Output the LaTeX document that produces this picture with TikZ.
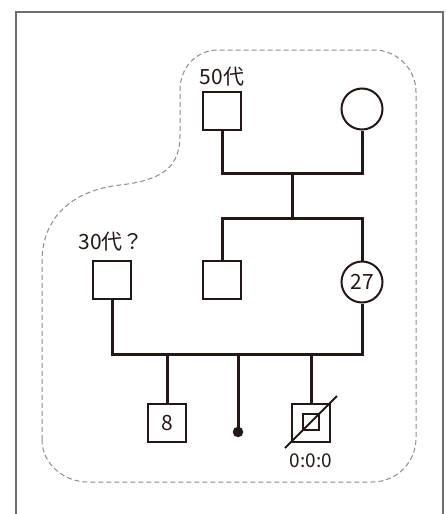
\documentclass[tikz,border=0pt]{standalone}
\usepackage{fontspec}
\setmainfont{Noto Sans CJK JP}
\definecolor{ink}{HTML}{231815}
\definecolor{rim}{HTML}{6E6E6E}
\definecolor{halo}{HTML}{8C8C8C}
\begin{document}
\begin{tikzpicture}[x=1pt,y=-1pt,
		male/.style={draw=ink,rectangle,minimum size=38pt,line width=2pt,inner sep=0pt,text=ink,font=\fontsize{21}{25}\selectfont},
		female/.style={draw=ink,circle,minimum size=41pt,line width=2pt,inner sep=0pt,text=ink,font=\fontsize{21}{25}\selectfont},
		tag/.style={text=ink,inner sep=0pt,font=\fontsize{21}{25}\selectfont},
		bond/.style={draw=ink,line width=3pt}]
			\useasboundingbox (0,0) rectangle (445,514);
			\draw[rim,line width=1.5pt] (16,514) -- (16,12) -- (443,12) -- (443,514);
			\draw[halo,dashed,line width=1pt,dash pattern=on 5pt off 3pt] (42,440) -- (42,262) .. controls (42,215) and (75,190) .. (120,185) .. controls (165,180) and (180,165) .. (180,135) -- (180,90) .. controls (180,68) and (196,50) .. (218,50) -- (374,50) .. controls (397,50) and (416,69) .. (416,92) -- (416,438) .. controls (416,462) and (397,482) .. (372,482) -- (88,482) .. controls (63,482) and (42,463) .. (42,440);
			\node[male] (p1) at (222,111){};
			\node[female] (p2) at (362,109){};
			\node[male] (p3) at (222,280){};
			\node[female] (p4) at (362,282){27};
			\node[male] (p5) at (112,280){};
			\node[male] (p6) at (167,423){8};
			\node[draw=ink,fill=ink,circle,minimum size=10pt,inner sep=0pt] (p7) at (238,432){};
			\node[male] (p8) at (311,423){};
			\node[draw=ink,rectangle,minimum size=16pt,line width=2pt,inner sep=0pt] (p9) at (311,422){};
			\node[tag] (t1) at (222,77){50代};
			\node[tag] (t2) at (111,242){30代？};
			\node[tag,font=\fontsize{19}{23}\selectfont] (t3) at (311,461){0:0:0};
			\coordinate (c1) at (292,173);
			\coordinate (s1) at (292,218);
			\coordinate (c2) at (238,354);
			\draw[bond] (p1.south) |- (c1) -| (p2.south);
			\draw[bond] (c1) -- (s1);
			\draw[bond] (p3.north) |- (s1) -| (p4.north);
			\draw[bond] (p5.south) |- (c2) -| (p4.south);
			\draw[bond] (p6.north) -- (p6.north |- c2);
			\draw[bond] (c2) -- (p7.center);
			\draw[bond] (p8.north) -- (p8.north |- c2);
			\draw[ink,line width=2pt] ([shift={(-26,25)}]p8.center) -- ([shift={(26,-27)}]p8.center);
		\end{tikzpicture}
\end{document}
